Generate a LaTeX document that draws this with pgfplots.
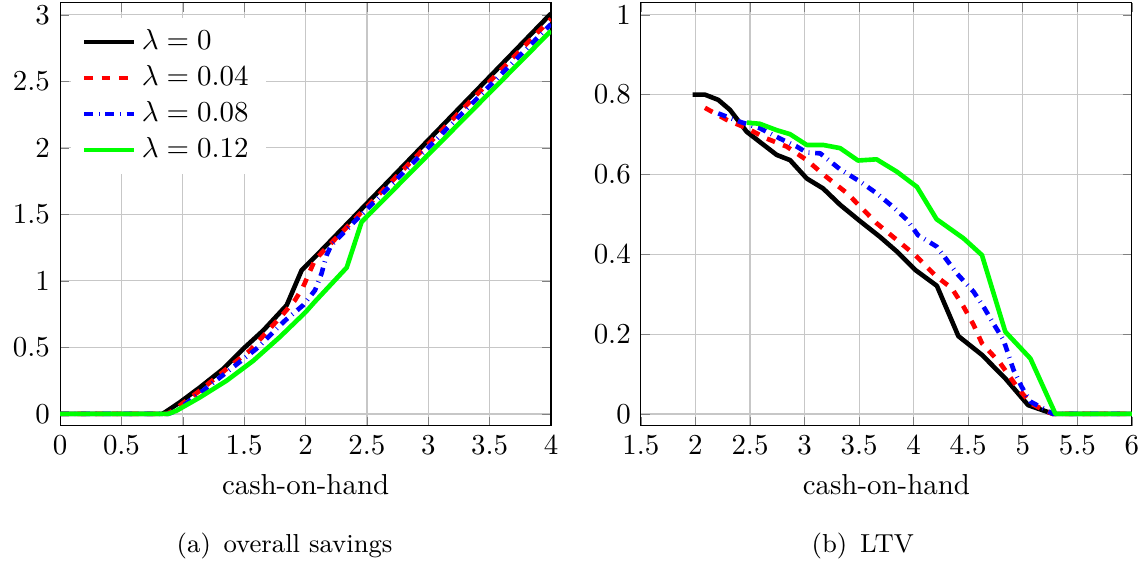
\documentclass[border=0pt]{standalone}
\usepackage{pgfplots}
\pgfplotsset{compat=1.18}
\definecolor{lgreen}{HTML}{00FF00}
\pgfplotsset{every axis/.append style={
 scale only axis,width=169.9pt,height=146.4pt,
 grid=major,grid style={thin,black!22},
 major tick length=3pt,
 xlabel={cash-on-hand},
 every axis plot/.append style={line width=1.6pt,line join=round}}}
\begin{document}
\begin{tikzpicture}
\path[use as bounding box] (-20.8pt,-46.7pt) rectangle (375.8pt,147.4pt);
% (a) overall savings
\begin{axis}[xmin=0,xmax=4,ymin=-0.09,ymax=3.09,
 xtick={0,0.5,...,4},ytick={0,0.5,...,3},
 legend style={at={(0.02,0.965)},anchor=north west,draw=none,fill=white,inner xsep=4pt},
 legend cell align=left]
\addplot[black] coordinates {(0,0) (0.83,0) (0.855,0.012) (0.977,0.088) (1.14,0.2) (1.33,0.339) (1.507,0.502) (1.656,0.628) (1.846,0.817) (1.968,1.08) (2.077,1.18) (4,3.01)};
\addplot[red,dashed] coordinates {(0,0) (0.87,0) (0.92,0.025) (1.14,0.176) (1.357,0.339) (1.547,0.477) (1.82,0.754) (1.914,0.855) (1.98,0.955) (2.077,1.16) (4,2.97)};
\addplot[blue,dash pattern=on 3pt off 2pt on 0.3pt off 2pt] coordinates {(0,0) (0.88,0) (0.95,0.025) (1.167,0.176) (1.376,0.327) (1.6,0.49) (1.83,0.70) (1.98,0.817) (2.077,0.93) (2.13,1.055) (2.17,1.19) (2.21,1.27) (4,2.93)};
\addplot[lgreen] coordinates {(0,0) (0.88,0) (0.95,0.025) (1.14,0.125) (1.357,0.25) (1.574,0.4) (1.79,0.578) (2.0,0.765) (2.077,0.845) (2.335,1.10) (2.457,1.444) (2.55,1.53) (4,2.88)};
\legend{$\lambda=0$,$\lambda=0.04$,$\lambda=0.08$,$\lambda=0.12$}
\end{axis}
% (b) LTV
\begin{axis}[at={(201pt,0pt)},xmin=1.5,xmax=6,ymin=-0.03,ymax=1.03,
 xtick={1.5,2,...,6},ytick={0,0.2,...,1}]
\addplot[black] coordinates {(1.974,0.80) (2.087,0.80) (2.209,0.787) (2.316,0.762) (2.47,0.707) (2.607,0.678) (2.745,0.649) (2.867,0.636) (3.02,0.59) (3.17,0.565) (3.326,0.524) (3.5,0.485) (3.69,0.444) (3.846,0.407) (4.014,0.361) (4.213,0.321) (4.41,0.195) (4.626,0.148) (4.84,0.089) (5.05,0.022) (5.28,0) (6,0)};
\addplot[red,dashed] coordinates {(2.087,0.767) (2.286,0.737) (2.47,0.716) (2.653,0.69) (2.836,0.67) (3.02,0.636) (3.2,0.594) (3.39,0.553) (3.66,0.478) (4.014,0.398) (4.21,0.344) (4.35,0.315) (4.457,0.269) (4.55,0.223) (4.626,0.177) (4.794,0.127) (4.947,0.068) (5.07,0.027) (5.22,0.006) (5.28,0) (6,0)};
\addplot[blue,dash pattern=on 3pt off 2pt on 0.3pt off 2pt] coordinates {(2.209,0.753) (2.408,0.732) (2.59,0.716) (2.775,0.69) (2.928,0.67) (3.02,0.655) (3.143,0.653) (3.326,0.613) (3.51,0.582) (3.66,0.553) (3.81,0.519) (3.94,0.486) (4.04,0.448) (4.213,0.419) (4.396,0.352) (4.55,0.306) (4.64,0.269) (4.73,0.227) (4.824,0.185) (4.916,0.11) (4.99,0.068) (5.07,0.031) (5.28,0) (6,0)};
\addplot[lgreen] coordinates {(2.47,0.73) (2.59,0.727) (2.745,0.711) (2.867,0.701) (3.02,0.674) (3.17,0.674) (3.326,0.666) (3.49,0.635) (3.66,0.638) (3.846,0.607) (4.03,0.569) (4.21,0.488) (4.457,0.44) (4.626,0.398) (4.84,0.206) (5.07,0.139) (5.3,0) (6,0)};
\end{axis}
\node[anchor=base,font=\small] at (77.7pt,-43.9pt) {(a)\hspace{4.4pt}overall savings};
\node[anchor=base,font=\small] at (277.8pt,-43.9pt) {(b)\hspace{4.4pt}LTV};
\end{tikzpicture}
\end{document}
